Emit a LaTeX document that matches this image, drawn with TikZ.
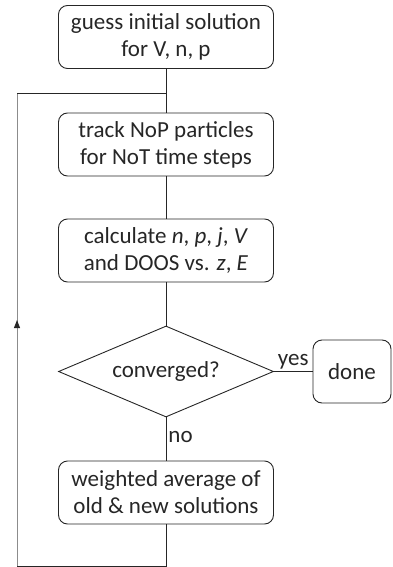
\documentclass[tikz,border=0pt]{standalone}
\usepackage{fontspec}
\setmainfont{Carlito}
\usetikzlibrary{shapes.geometric}
\usetikzlibrary{arrows.meta}
\usetikzlibrary{decorations.markings}
\tikzset{
  procbox/.style={draw=black!85, line width=0.9pt, rounded corners=9pt, minimum width=215pt,
    minimum height=63pt, align=center, text=black!85, inner sep=0pt,
    font=\fontsize{23}{27}\selectfont},
  decbox/.style={draw=black!85, line width=0.9pt, shape=diamond, aspect=2.36, inner sep=0pt,
    minimum width=215pt, minimum height=91pt, text=black!85, font=\fontsize{23}{27}\selectfont},
  flow/.style={draw=black!85, line width=0.9pt},
  lbl/.style={text=black!85, inner sep=2pt, font=\fontsize{23}{27}\selectfont},
  backflow/.style={draw=black!45, line width=0.9pt,
    postaction={decorate, decoration={markings,
      mark=at position 0.52 with {\arrow[black!85]{Triangle[length=8pt, width=6pt]}}}}}
}
\begin{document}
\begin{tikzpicture}[x=1pt, y=-1pt]
        \useasboundingbox (0,0) rectangle (392,567);
        % main column of steps
        \node[procbox] (guess) at (166,37) {guess initial solution\\for V, n, p};
        \node[procbox] (track) at (166,144.5) {track NoP particles\\for NoT time steps};
        \node[procbox] (calc) at (166,250.5) {calculate \textit{n}, \textit{p}, \textit{j}, \textit{V}\\and DOOS vs. \textit{z}, \textit{E}};
        \node[decbox] (conv) at (166,371.5) {converged?};
        \node[procbox, minimum width=78pt] (done) at (352,371.5) {done};
        \node[procbox] (avg) at (166,492.5) {weighted average of\\old \& new solutions};

        % loop corners
        \coordinate (join) at (166,93);
        \coordinate (topleft) at (17,93);
        \coordinate (botleft) at (17,566);

        \draw[flow] (guess) -- (track);
        \draw[flow] (track) -- (calc);
        \draw[flow] (calc) -- (conv);
        \draw[flow] (conv) -- node[lbl, above] {yes} (done);
        \draw[flow] (conv) -- node[lbl, right, pos=0.45] {no} (avg);
        \draw[flow] (avg.south) |- (botleft);
        \draw[backflow] (botleft) -- (topleft);
        \draw[flow] (topleft) -- (join);
\end{tikzpicture}
\end{document}
